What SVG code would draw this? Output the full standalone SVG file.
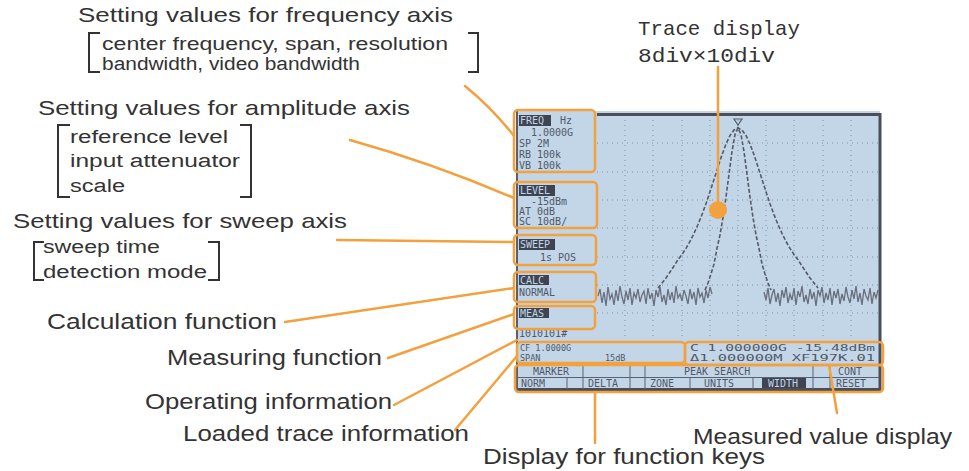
<svg xmlns="http://www.w3.org/2000/svg" width="969" height="471" viewBox="0 0 969 471">
<defs>
<style>
.lbl{font-family:"Liberation Sans","Noto Sans",Arial,sans-serif;fill:#333;font-size:21px}
.big{font-size:22px}
.sub{font-size:18px}
.mono{font-family:"Liberation Mono","DejaVu Sans Mono",monospace;fill:#333;font-size:21px}
.brk{fill:none;stroke:#333;stroke-width:2}
.con{fill:none;stroke:#f3a03f;stroke-width:2.5;stroke-linecap:round}
.hl{fill:none;stroke:#f3a03f;stroke-width:2.5}
.lcd{font-family:"DejaVu Sans Mono","Liberation Mono",monospace;font-size:10px;fill:#505868}
.sm{font-size:8.5px}
.inv{fill:#c2d6e8}
.invbg{fill:#3f4452}
.grid{stroke:#7f92a8;stroke-width:1;stroke-dasharray:1 4;fill:none}
.trc{fill:none;stroke:#555a66;stroke-width:1.6;stroke-dasharray:4 2}
.noise{fill:none;stroke:#6a6e7c;stroke-width:1.3}
.div{stroke:#5a6270;stroke-width:1}
</style>
</defs>
<rect width="969" height="471" fill="#ffffff"/>

<g id="screen">
<rect x="516" y="111" width="364" height="279" fill="#c2d6e8"/>
<g id="grid">
<path class="grid" d="M625,115V340M653,115V340M682,115V340M710,115V340M738,115V340M766,115V340M794,115V340M823,115V340M851,115V340"/>
<path class="grid" d="M597,143H879M597,172H879M597,200H879M597,228H879M597,257H879M597,285H879M597,313H879"/>
</g>
<polyline class="noise" points="598,296 600,289 602,303 604,292 606,306 608,287 610,299 612,294 614,305 616,290 618,301 620,286 622,297 624,304 626,291 628,300 630,288 632,305 634,293 636,298 638,289 640,302 642,295 644,291 646,304 648,288 650,299 652,293 654,306 656,290 658,297 660,287 662,302 664,295 666,305 668,289 670,300 672,292 674,303 676,286 678,298 680,294 682,301 684,290 686,296 688,304 690,289 692,299 694,292 696,305 698,288 700,297 702,293 704,303 706,290 708,298 710,287 712,294"/>
<polyline class="noise" points="764,292 766,300 768,288 770,304 772,295 774,289 776,302 778,293 780,306 782,290 784,298 786,287 788,303 790,294 792,300 794,288 796,305 798,291 800,297 802,286 804,302 806,295 808,304 810,289 812,299 814,292 816,306 818,290 820,296 822,287 824,303 826,293 828,300 830,288 832,305 834,291 836,298 838,289 840,304 842,294 844,301 846,287 848,297 850,303 852,290 854,299 856,286 858,302 860,293 862,305 864,289 866,296 868,300 870,288 872,304 874,292 876,298 878,290"/>
<polyline class="trc" points="658,288 662,283 666,278 670,272 674,266 678,259.7 682,254.5 686,248.4 690,241.4 694,233.4 698,224.5 702,214.6 706,203.7 710,191.8 714,179.4 718,166.9 722,154.8 726,144 730,135.5 734,130 738,128 742,130 746,135.5 750,144 754,154.8 758,166.9 762,179.4 766,191.8 770,203.7 774,214.6 778,224.5 782,233.4 786,241.4 790,248.4 794,254.5 798,259.7 802,266 806,272 810,278 814,283 818,288"/>
<polyline class="trc" points="705,290 708,283 711,274 714,264 717,248.4 720,234.8 723,217.5 726,197.1 729,174.1 732,151.6 735,134.5 738,128 741,134.5 744,151.6 747,174.1 750,197.1 753,217.5 756,234.8 759,248.4 762,264 765,274 768,283 771,290"/>
<path d="M734,119 L742,119 L738,125 Z" fill="none" stroke="#555a66" stroke-width="1.2"/>
<path d="M597,114.5H880M880,113V390M516,389.5H881" stroke="#4a4e58" stroke-width="3" fill="none"/>
<path d="M517,110V390" stroke="#5a5f6a" stroke-width="2"/>

<g id="lcd-text">
<rect class="invbg" x="519" y="115" width="32" height="11"/>
<text class="lcd inv" x="520" y="124">FREQ</text>
<text class="lcd" x="560" y="124">Hz</text>
<text class="lcd" x="531" y="136">1.0000G</text>
<text class="lcd" x="519" y="147">SP  2M</text>
<text class="lcd" x="519" y="158">RB  100k</text>
<text class="lcd" x="519" y="169">VB  100k</text>
<rect class="invbg" x="519" y="185" width="36" height="11"/>
<text class="lcd inv" x="520" y="194">LEVEL</text>
<text class="lcd" x="531" y="205">-15dBm</text>
<text class="lcd" x="519" y="215">AT  0dB</text>
<text class="lcd" x="519" y="225">SC  10dB/</text>
<rect class="invbg" x="519" y="239" width="36" height="11"/>
<text class="lcd inv" x="520" y="248">SWEEP</text>
<text class="lcd" x="540" y="261">1s POS</text>
<rect class="invbg" x="519" y="275" width="30" height="10"/>
<text class="lcd inv" x="520" y="284">CALC</text>
<text class="lcd" x="519" y="296">NORMAL</text>
<rect class="invbg" x="519" y="308" width="30" height="10"/>
<text class="lcd inv" x="520" y="317">MEAS</text>
<text class="lcd" x="519" y="337">1010101#</text>
<text class="lcd sm" x="520" y="351">CF 1.0000G</text>
<text class="lcd sm" x="520" y="361">SPAN</text>
<text class="lcd sm" x="605" y="361">15dB</text>
<text class="lcd sm" x="690" y="351" textLength="185" lengthAdjust="spacingAndGlyphs">C 1.000000G    -15.48dBm</text>
<text class="lcd sm" x="690" y="361" textLength="185" lengthAdjust="spacingAndGlyphs">Δ1.000000M    XF197K.01</text>
<path class="div" d="M517,365.5H879M517,377.5H879M583,365V389M630,365V389M645,365V389M813,365V389M830,365V389M567,377V389M690,377V389M753,377V389"/>
<text class="lcd" x="533" y="375">MARKER</text>
<text class="lcd" x="684" y="375">PEAK SEARCH</text>
<text class="lcd" x="838" y="375">CONT</text>
<text class="lcd" x="521" y="387">NORM</text>
<text class="lcd" x="588" y="387">DELTA</text>
<text class="lcd" x="650" y="387">ZONE</text>
<text class="lcd" x="704" y="387">UNITS</text>
<rect class="invbg" x="762" y="378" width="44" height="10"/>
<text class="lcd inv" x="768" y="387">WIDTH</text>
<text class="lcd" x="836" y="387">RESET</text>
</g>
</g>

<g id="highlights">
<rect class="hl" x="514" y="110" width="81" height="62" rx="4"/>
<rect class="hl" x="514" y="182" width="83" height="46" rx="4"/>
<rect class="hl" x="514" y="235" width="82" height="30" rx="4"/>
<rect class="hl" x="514" y="272" width="82" height="30" rx="4"/>
<rect class="hl" x="514" y="306" width="81" height="23" rx="4"/>
<rect class="hl" x="517" y="342" width="168" height="21" rx="4"/>
<rect class="hl" x="685" y="342" width="198" height="23" rx="4"/>
<rect class="hl" x="515" y="365" width="368" height="27" rx="4"/>
</g>

<g id="connectors">
<path class="con" d="M465,86 Q492,108 514,136"/>
<path class="con" d="M350,140 Q432,163 514,198"/>
<path class="con" d="M337,240 L514,242"/>
<path class="con" d="M285,322 L514,288"/>
<path class="con" d="M388,358 L514,314"/>
<path class="con" d="M394,405 L517,340"/>
<path class="con" d="M455,430 L517,356"/>
<path class="con" d="M595,392 L595,443"/>
<path class="con" d="M829,365 L837,413"/>
<path class="con" d="M718,67 L718,209"/>
<circle cx="718" cy="210" r="9" fill="#f3a03f"/>
</g>

<g id="label-frequency">
<text class="lbl" x="78" y="22" textLength="375" lengthAdjust="spacingAndGlyphs">Setting values for frequency axis</text>
<path class="brk" d="M100,33H89V72H100M468,33H478V72H468"/>
<text class="lbl sub" x="102" y="50" textLength="346" lengthAdjust="spacingAndGlyphs">center frequency, span, resolution</text>
<text class="lbl sub" x="102" y="70" textLength="258" lengthAdjust="spacingAndGlyphs">bandwidth, video bandwidth</text>
</g>
<g id="label-amplitude">
<text class="lbl" x="38" y="115" textLength="372" lengthAdjust="spacingAndGlyphs">Setting values for amplitude axis</text>
<path class="brk" d="M70,125H58V197H70M240,125H251V197H240"/>
<text class="lbl sub" x="70" y="143" textLength="158" lengthAdjust="spacingAndGlyphs">reference level</text>
<text class="lbl sub" x="70" y="167" textLength="170" lengthAdjust="spacingAndGlyphs">input attenuator</text>
<text class="lbl sub" x="70" y="192" textLength="55" lengthAdjust="spacingAndGlyphs">scale</text>
</g>
<g id="label-sweep">
<text class="lbl" x="13" y="228" textLength="334" lengthAdjust="spacingAndGlyphs">Setting values for sweep axis</text>
<path class="brk" d="M44,242H34V280H44M208,242H219V280H208"/>
<text class="lbl sub" x="43" y="253" textLength="117" lengthAdjust="spacingAndGlyphs">sweep time</text>
<text class="lbl sub" x="43" y="278" textLength="164" lengthAdjust="spacingAndGlyphs">detection mode</text>
</g>
<g id="label-calculation">
<text class="lbl big" x="47" y="329" textLength="230" lengthAdjust="spacingAndGlyphs">Calculation function</text>
</g>
<g id="label-measuring">
<text class="lbl big" x="167" y="365" textLength="215" lengthAdjust="spacingAndGlyphs">Measuring function</text>
</g>
<g id="label-operating">
<text class="lbl big" x="145" y="409" textLength="247" lengthAdjust="spacingAndGlyphs">Operating information</text>
</g>
<g id="label-loaded">
<text class="lbl big" x="183" y="441" textLength="286" lengthAdjust="spacingAndGlyphs">Loaded trace information</text>
</g>
<g id="label-function-keys">
<text class="lbl big" x="483" y="464" textLength="282" lengthAdjust="spacingAndGlyphs">Display for function keys</text>
</g>
<g id="label-measured">
<text class="lbl big" x="693" y="444" textLength="259" lengthAdjust="spacingAndGlyphs">Measured value display</text>
</g>
<g id="label-trace">
<text class="mono" x="638" y="35" textLength="162" lengthAdjust="spacingAndGlyphs">Trace display</text>
<text class="mono" x="638" y="62" textLength="137" lengthAdjust="spacingAndGlyphs">8div×10div</text>
</g>
</svg>
